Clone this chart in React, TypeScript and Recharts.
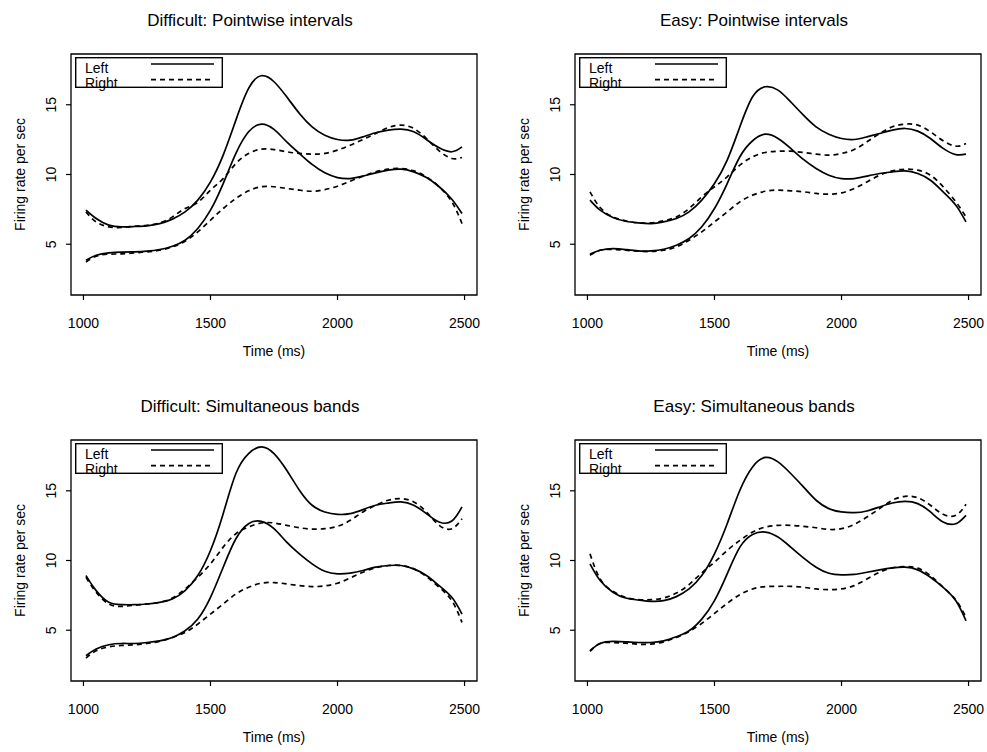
import { LineChart, Line, XAxis, YAxis, ReferenceArea, Legend } from "recharts"

// time grid (ms) shared by all four panels
const times = [
	1010, 1050, 1100, 1150, 1200, 1250, 1300, 1350, 1400, 1450, 1500, 1550, 1600, 1650, 1700, 1750,
	1800, 1850, 1900, 1950, 2000, 2050, 2100, 2150, 2200, 2250, 2300, 2350, 2400, 2450, 2490,
]
const xTicks = [1000, 1500, 2000, 2500]
const yTicks = [5, 10, 15]

// Difficult: Pointwise intervals
const diffPointLeftUpper = [7.44, 6.84, 6.37, 6.25, 6.27, 6.32, 6.48, 6.8, 7.32, 8.16, 9.47, 11.39, 13.9, 16.17, 17.08, 16.65, 15.57, 14.38, 13.42, 12.82, 12.51, 12.46, 12.7, 12.99, 13.18, 13.25, 13.06, 12.51, 11.91, 11.63, 11.98]
const diffPointRightUpper = [7.32, 6.6, 6.25, 6.2, 6.29, 6.36, 6.53, 6.96, 7.56, 8.0, 8.88, 9.71, 10.79, 11.51, 11.82, 11.79, 11.63, 11.51, 11.46, 11.51, 11.75, 12.1, 12.51, 12.94, 13.37, 13.54, 13.3, 12.58, 11.7, 11.15, 11.22]
const diffPointLeftLower = [3.85, 4.21, 4.38, 4.43, 4.45, 4.5, 4.62, 4.86, 5.29, 6.13, 7.44, 9.35, 11.51, 13.06, 13.61, 13.23, 12.34, 11.51, 10.72, 10.12, 9.78, 9.71, 9.88, 10.12, 10.31, 10.38, 10.19, 9.78, 9.12, 8.23, 7.2]
const diffPointRightLower = [3.73, 4.14, 4.29, 4.31, 4.38, 4.45, 4.57, 4.81, 5.22, 5.89, 6.72, 7.56, 8.28, 8.83, 9.12, 9.12, 9.0, 8.88, 8.8, 8.92, 9.16, 9.52, 9.88, 10.19, 10.38, 10.43, 10.26, 9.83, 9.12, 8.04, 6.48]

// Easy: Pointwise intervals
const easyPointLeftUpper = [8.16, 7.44, 6.92, 6.65, 6.53, 6.48, 6.6, 6.84, 7.32, 8.16, 9.35, 11.03, 13.42, 15.57, 16.29, 16.05, 15.21, 14.26, 13.42, 12.89, 12.58, 12.51, 12.7, 12.94, 13.18, 13.3, 13.11, 12.58, 11.87, 11.43, 11.46]
const easyPointRightUpper = [8.76, 7.63, 6.96, 6.68, 6.53, 6.53, 6.68, 6.96, 7.56, 8.4, 9.12, 9.83, 10.67, 11.27, 11.58, 11.67, 11.67, 11.58, 11.46, 11.39, 11.51, 11.79, 12.34, 12.94, 13.42, 13.61, 13.54, 13.06, 12.42, 12.03, 12.22]
const easyPointLeftLower = [4.29, 4.57, 4.69, 4.62, 4.52, 4.52, 4.64, 4.93, 5.41, 6.25, 7.56, 9.35, 11.27, 12.42, 12.89, 12.58, 11.87, 11.08, 10.43, 9.95, 9.71, 9.71, 9.88, 10.07, 10.19, 10.26, 10.07, 9.59, 8.76, 7.8, 6.6]
const easyPointRightLower = [4.21, 4.57, 4.62, 4.57, 4.5, 4.48, 4.57, 4.81, 5.29, 5.89, 6.6, 7.32, 8.04, 8.52, 8.8, 8.88, 8.83, 8.76, 8.64, 8.59, 8.68, 9.0, 9.47, 9.95, 10.26, 10.38, 10.31, 9.95, 9.12, 8.04, 6.96]

// Difficult: Simultaneous bands
const diffSimLeftUpper = [8.92, 7.84, 7.0, 6.83, 6.83, 6.88, 7.0, 7.24, 7.84, 8.92, 10.72, 13.36, 16.24, 17.67, 18.15, 17.67, 16.47, 15.04, 13.96, 13.48, 13.31, 13.36, 13.65, 13.96, 14.12, 14.2, 13.96, 13.36, 12.76, 12.83, 13.84]
const diffSimRightUpper = [8.8, 7.72, 6.88, 6.71, 6.79, 6.88, 7.0, 7.31, 7.96, 8.8, 9.76, 10.96, 11.92, 12.4, 12.69, 12.69, 12.52, 12.35, 12.25, 12.28, 12.45, 12.88, 13.48, 13.96, 14.32, 14.44, 14.2, 13.48, 12.52, 12.28, 13.0]
const diffSimLeftLower = [3.17, 3.65, 3.96, 4.05, 4.05, 4.12, 4.24, 4.48, 4.96, 5.8, 7.36, 9.52, 11.56, 12.64, 12.81, 12.28, 11.32, 10.48, 9.76, 9.23, 9.04, 9.09, 9.28, 9.52, 9.64, 9.64, 9.4, 8.92, 8.2, 7.36, 6.16]
const diffSimRightLower = [3.0, 3.53, 3.81, 3.91, 3.96, 4.05, 4.2, 4.48, 4.84, 5.44, 6.16, 6.88, 7.6, 8.08, 8.37, 8.42, 8.32, 8.2, 8.13, 8.18, 8.37, 8.75, 9.16, 9.47, 9.64, 9.64, 9.4, 8.85, 8.08, 7.12, 5.56]

// Easy: Simultaneous bands
const easySimLeftUpper = [9.76, 8.56, 7.72, 7.31, 7.17, 7.07, 7.12, 7.41, 7.96, 8.92, 10.48, 12.64, 15.04, 16.71, 17.39, 17.07, 16.24, 15.28, 14.32, 13.72, 13.48, 13.43, 13.55, 13.84, 14.12, 14.24, 14.08, 13.48, 12.76, 12.64, 13.24]
const easySimRightUpper = [10.48, 8.68, 7.79, 7.36, 7.19, 7.19, 7.31, 7.67, 8.27, 9.11, 9.88, 10.72, 11.44, 12.04, 12.4, 12.52, 12.52, 12.45, 12.35, 12.23, 12.28, 12.59, 13.12, 13.72, 14.32, 14.6, 14.5, 13.96, 13.31, 13.24, 14.03]
const easySimLeftLower = [3.53, 4.05, 4.2, 4.17, 4.12, 4.12, 4.24, 4.53, 4.96, 5.8, 7.12, 9.04, 10.96, 11.87, 12.04, 11.68, 10.96, 10.19, 9.52, 9.09, 8.97, 9.0, 9.16, 9.33, 9.47, 9.52, 9.33, 8.8, 8.08, 7.12, 5.68]
const easySimRightLower = [3.48, 4.05, 4.12, 4.07, 4.0, 4.0, 4.17, 4.48, 4.91, 5.49, 6.21, 6.93, 7.55, 7.96, 8.13, 8.15, 8.15, 8.08, 7.96, 7.91, 7.96, 8.2, 8.68, 9.16, 9.47, 9.57, 9.45, 8.92, 8.08, 7.17, 5.92]

const FONT = '"Liberation Sans", Arial, Helvetica, sans-serif'
const X_DOMAIN: [number, number] = [951, 2549]
const Y_DOMAIN: [number, number] = [1.36, 18.64]
const DASH = "5 4"

function YTick({ x, y, payload }: any) {
	return (
		<text x={x} y={y} transform={`rotate(-90 ${x} ${y})`} textAnchor="middle" fontSize={14} fill="#000">
			{payload.value}
		</text>
	)
}

function LegendBox() {
	return (
		<svg width={148} height={31} style={{ display: "block", overflow: "visible" }}>
			<rect x={0.7} y={0.7} width={146.6} height={29.6} fill="none" stroke="#000" strokeWidth={1.4} />
			<text x={10} y={15.5} fontSize={14} fill="#000">Left</text>
			<text x={10} y={30.5} fontSize={14} fill="#000">Right</text>
			<line x1={76} x2={139} y1={7} y2={7} stroke="#000" strokeWidth={1.7} />
			<line x1={76} x2={139} y1={22.7} y2={22.7} stroke="#000" strokeWidth={1.7} strokeDasharray={DASH} />
		</svg>
	)
}

interface PanelProps {
	title: string
	left: number
	top: number
	width: number
	leftUpper: number[]
	rightUpper: number[]
	leftLower: number[]
	rightLower: number[]
}

function Panel({ title, left, top, width, leftUpper, rightUpper, leftLower, rightLower }: PanelProps) {
	const data = times.map((t, i) => ({
		t,
		lu: leftUpper[i],
		ru: rightUpper[i],
		ll: leftLower[i],
		rl: rightLower[i],
	}))

	return (
		<div style={{ position: "absolute", left, top, width, height: 376 }}>
			<div
				style={{
					position: "absolute",
					left: 0,
					top: 11,
					width: 500,
					textAlign: "center",
					fontSize: 17,
					lineHeight: "20px",
					color: "#000",
				}}
			>
				{title}
			</div>
			<LineChart width={width} height={376} data={data} margin={{ top: 54, right: width - 477, bottom: 17, left: 11 }}>
				<XAxis
					dataKey="t"
					type="number"
					domain={X_DOMAIN}
					ticks={xTicks}
					allowDataOverflow
					height={64}
					axisLine={false}
					tickSize={5}
					tickMargin={18}
					tickLine={{ stroke: "#000", strokeWidth: 1.2 }}
					tick={{ fontSize: 14, fill: "#000" }}
					label={{ value: "Time (ms)", position: "insideBottom", offset: 3, fontSize: 14, fill: "#000" }}
				/>
				<YAxis
					type="number"
					domain={Y_DOMAIN}
					ticks={yTicks}
					allowDataOverflow
					width={60}
					axisLine={false}
					tickSize={5}
					tickMargin={10}
					tickLine={{ stroke: "#000", strokeWidth: 1.2 }}
					tick={YTick}
					label={{
						value: "Firing rate per sec",
						angle: -90,
						position: "insideLeft",
						offset: 9,
						fontSize: 14,
						fill: "#000",
						style: { textAnchor: "middle" },
					}}
				/>
				<ReferenceArea
					x1={X_DOMAIN[0]}
					x2={X_DOMAIN[1]}
					y1={Y_DOMAIN[0]}
					y2={Y_DOMAIN[1]}
					fill="#fff"
					fillOpacity={0}
					stroke="#000"
					strokeWidth={1.3}
				/>
				<Line type="natural" dataKey="lu" stroke="#000" strokeWidth={1.7} dot={false} isAnimationActive={false} />
				<Line type="natural" dataKey="ll" stroke="#000" strokeWidth={1.7} dot={false} isAnimationActive={false} />
				<Line type="natural" dataKey="ru" stroke="#000" strokeWidth={1.7} strokeDasharray={DASH} dot={false} isAnimationActive={false} />
				<Line type="natural" dataKey="rl" stroke="#000" strokeWidth={1.7} strokeDasharray={DASH} dot={false} isAnimationActive={false} />
				<Legend
					layout="horizontal"
					verticalAlign="middle"
					align="center"
					wrapperStyle={{ left: 75, top: 57, width: 148, height: 31 }}
					content={LegendBox}
				/>
			</LineChart>
		</div>
	)
}

export default function App() {
	return (
		<div
			style={{
				position: "absolute",
				left: 0,
				top: 0,
				width: 987,
				height: 752,
				overflow: "hidden",
				background: "#fff",
				fontFamily: FONT,
			}}
		>
			<Panel
				title="Difficult: Pointwise intervals"
				left={0}
				top={0}
				width={493}
				leftUpper={diffPointLeftUpper}
				rightUpper={diffPointRightUpper}
				leftLower={diffPointLeftLower}
				rightLower={diffPointRightLower}
			/>
			<Panel
				title="Easy: Pointwise intervals"
				left={504}
				top={0}
				width={483}
				leftUpper={easyPointLeftUpper}
				rightUpper={easyPointRightUpper}
				leftLower={easyPointLeftLower}
				rightLower={easyPointRightLower}
			/>
			<Panel
				title="Difficult: Simultaneous bands"
				left={0}
				top={386}
				width={493}
				leftUpper={diffSimLeftUpper}
				rightUpper={diffSimRightUpper}
				leftLower={diffSimLeftLower}
				rightLower={diffSimRightLower}
			/>
			<Panel
				title="Easy: Simultaneous bands"
				left={504}
				top={386}
				width={483}
				leftUpper={easySimLeftUpper}
				rightUpper={easySimRightUpper}
				leftLower={easySimLeftLower}
				rightLower={easySimRightLower}
			/>
		</div>
	)
}
